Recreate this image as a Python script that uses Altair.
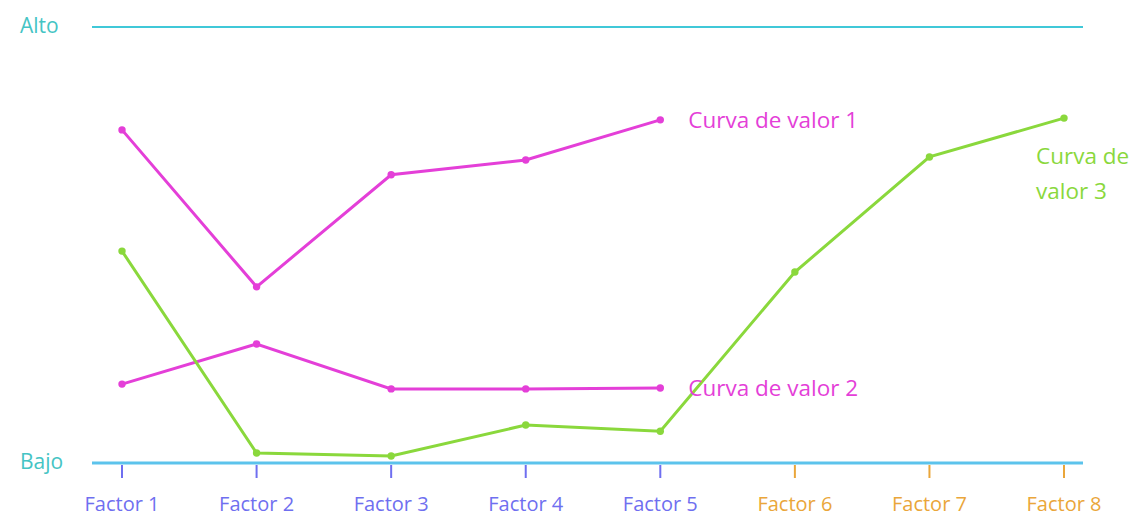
import altair as alt
import pandas as pd

factors = [1, 2, 3, 4, 5, 6, 7, 8]
factor_labels = ["Factor 1", "Factor 2", "Factor 3", "Factor 4",
                 "Factor 5", "Factor 6", "Factor 7", "Factor 8"]
factor_group = ["A", "A", "A", "A", "A", "B", "B", "B"]
curve1 = [7.64, 4.04, 6.61, 6.95, 7.87]
curve2 = [1.81, 2.73, 1.70, 1.70, 1.72]
curve3 = [4.86, 0.23, 0.16, 0.87, 0.73, 4.38, 7.02, 7.91]
series_names = ["Curva de valor 1", "Curva de valor 2", "Curva de valor 3"]
level_labels = ["Bajo", "Alto"]
level_values = [0, 10]

rows = []
for name, vals in zip(series_names, [curve1, curve2, curve3]):
    for f, v in zip(factors, vals):
        rows.append({"factor": f, "value": v, "serie": name})
df = pd.DataFrame(rows)
fdf = pd.DataFrame({"factor": factors, "lab": factor_labels, "grp": factor_group})

W, H = 991, 436
FONT = "Open Sans"

xs = alt.Scale(domain=[0.777, 8.141], nice=False, zero=False)
ys = alt.Scale(domain=[0, 10], nice=False, zero=False)
cs = alt.Scale(domain=series_names, range=["#e43fd8", "#e43fd8", "#8ad83c"])
gs = alt.Scale(domain=["A", "B"], range=["#6f6ff0", "#eaa63a"])

X = alt.X("factor:Q", scale=xs, axis=None)
Y = alt.Y("value:Q", scale=ys, axis=None)
C = alt.Color("serie:N", scale=cs, legend=None)

lines = alt.Chart(df).mark_line(strokeWidth=3).encode(x=X, y=Y, color=C, detail="serie:N")
points = alt.Chart(df).mark_circle(size=55, opacity=1).encode(x=X, y=Y, color=C)

last = df.groupby("serie").tail(1).reset_index(drop=True)
lab12 = alt.Chart(last[last.serie != series_names[2]]).mark_text(
    align="left", baseline="middle", dx=28, dy=1, font=FONT, fontSize=22.5).encode(
    x=X, y=Y, text="serie:N", color=C)
lab3_df = last[last.serie == series_names[2]].assign(txt="Curva de\nvalor 3")
lab3 = alt.Chart(lab3_df).mark_text(
    align="left", baseline="middle", dx=-28, dy=39, lineBreak="\n", lineHeight=35,
    font=FONT, fontSize=22.5).encode(x=X, y=Y, text="txt:N", color=C)

lv = pd.DataFrame({"lab": level_labels, "v": level_values})
rule_top = alt.Chart(lv[lv.v == 10]).mark_rule(color="#40c8d8", strokeWidth=2).encode(
    y=alt.Y("v:Q", scale=ys, axis=None), x=alt.value(0), x2=alt.value(W))
rule_bot = alt.Chart(lv[lv.v == 0]).mark_rule(color="#5cc3ec", strokeWidth=3).encode(
    y=alt.Y("v:Q", scale=ys, axis=None), x=alt.value(0), x2=alt.value(W))
levels = alt.Chart(lv).mark_text(
    align="left", baseline="middle", font=FONT, fontSize=21, color="#45c4c4").encode(
    y=alt.Y("v:Q", scale=ys, axis=None), x=alt.value(-72), text="lab:N")

G = alt.Color("grp:N", scale=gs, legend=None)
ticks = alt.Chart(fdf).mark_rule(strokeWidth=2).encode(
    x=alt.X("factor:Q", scale=xs, axis=None), y=alt.value(H + 2), y2=alt.value(H + 15), color=G)
xlabels = alt.Chart(fdf).mark_text(baseline="middle", font=FONT, fontSize=20).encode(
    x=alt.X("factor:Q", scale=xs, axis=None), y=alt.value(H + 42), text="lab:N", color=G)

chart = alt.layer(rule_top, rule_bot, ticks, xlabels, levels, lines, points, lab12, lab3).resolve_scale(
    color="independent"
).properties(
    width=W, height=H,
    autosize=alt.AutoSizeParams(type="none"),
    padding={"left": 84, "top": 19, "right": 49, "bottom": 53},
).configure_view(strokeWidth=0)

chart.save("out.html", embed_options={"renderer": "svg", "actions": False})
